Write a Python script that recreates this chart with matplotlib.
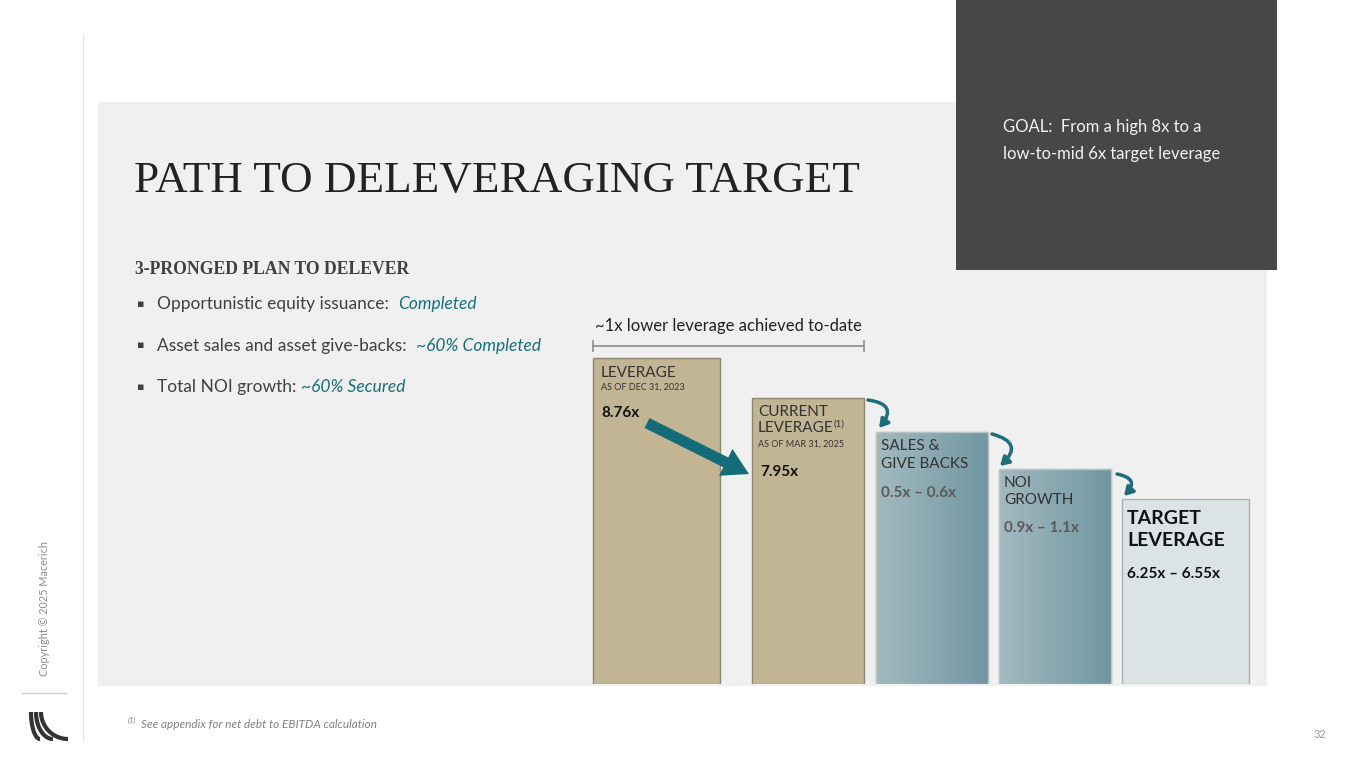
import numpy as np
import matplotlib.pyplot as plt
from matplotlib.patches import Rectangle, FancyArrow
from matplotlib.colors import LinearSegmentedColormap

# schematic leverage bars (tops, same scale as 8.76x / 7.95x)
stages = ['LEVERAGE', 'CURRENT LEVERAGE', 'SALES & GIVE BACKS', 'NOI GROWTH', 'TARGET LEVERAGE']
bar_tops = [8.76, 7.95, 7.26, 6.51, 5.90]
base_value = 2.16
value_labels = ['8.76x', '7.95x', '0.5x – 0.6x', '0.9x – 1.1x', '6.25x – 6.55x']
bullets = ['Opportunistic equity issuance:  ', 'Asset sales and asset give-backs:  ', 'Total NOI growth: ']
bullet_status = ['Completed', '~60% Completed', '~60% Secured']

# layout (pixels)
bar_x = [656.5, 808, 932, 1055, 1185.5]
bar_w = [127, 112, 112, 112, 127]
bar_face = ['#C2B594', '#C2B594', None, None, '#DCE3E5']
bar_edge = ['#8E866E', '#8E866E', '#B9C4C7', '#B9C4C7', '#A9B0B2']

SANS = ['Lato', 'DejaVu Sans']
SERIF = ['Liberation Serif', 'DejaVu Serif']
TEAL = '#17707C'

fig = plt.figure(figsize=(13.65, 7.68), dpi=100)
bg = fig.add_axes([0, 0, 1, 1], zorder=0)
bg.set_xlim(0, 1365)
bg.set_ylim(768, 0)
bg.axis('off')

# bar axes: bottom at pixel 684, top at pixel 300
px_per_unit = 40 / 0.81
ax = fig.add_axes([0, (768 - 684) / 768, 1, 384 / 768], zorder=1)
ax.patch.set_alpha(0)
ax.axis('off')
ytop = base_value + 384 / px_per_unit

ov = fig.add_axes([0, 0, 1, 1], zorder=2)
ov.patch.set_alpha(0)
ov.set_xlim(0, 1365)
ov.set_ylim(768, 0)
ov.axis('off')

# slide background
bg.add_patch(Rectangle((98, 102), 1169, 584, color='#F0F0F0', lw=0))
bg.add_patch(Rectangle((956, 0), 321, 270, color='#474747', lw=0))
bg.plot([83, 83], [35, 740], color='#E6E6E6', lw=1)
bg.plot([22, 66], [693, 693], color='#CCCCCC', lw=1)

# bars
heights = np.array(bar_tops) - base_value
bars = ax.bar(bar_x, heights, width=bar_w, bottom=base_value,
              color=[c if c else '#8FAAB2' for c in bar_face],
              edgecolor=bar_edge, linewidth=1)
grad = np.linspace(0, 1, 64).reshape(1, -1)
cmap = LinearSegmentedColormap.from_list('bl', ['#A3B9C0', '#7197A1'])
for i, b in enumerate(bars):
    if bar_face[i] is None:
        x0 = bar_x[i] - bar_w[i] / 2
        im = ax.imshow(grad, cmap=cmap, aspect='auto', zorder=2,
                       extent=(x0, x0 + bar_w[i], base_value, bar_tops[i]))
        im.set_clip_path(b)
        ax.add_patch(Rectangle((x0, base_value), bar_w[i], heights[i], fill=False,
                               edgecolor=bar_edge[i], lw=1, zorder=3))
ax.set_xlim(0, 1365)
ax.set_ylim(base_value, ytop)

fig.canvas.draw()
renderer = fig.canvas.get_renderer()


def put(x, y, parts, va='center'):
    for txt, kw in parts:
        t = ov.text(x, y, txt, va=va, ha='left', **kw)
        x += t.get_window_extent(renderer).width
    return x


# title and bullets
ov.text(134, 192, 'PATH TO DELEVERAGING TARGET', family=SERIF, fontsize=32.5,
        color='#222222', va='baseline')
ov.text(135, 274, '3-PRONGED PLAN TO DELEVER', family=SERIF, fontsize=12.7,
        fontweight='bold', color='#404040', va='baseline')
for i, (b, s) in enumerate(zip(bullets, bullet_status)):
    y = 304 + i * 41.5
    ov.text(137, y, '▪', family=['DejaVu Sans'], fontsize=8, color='#404040', va='center')
    put(157, y, [(b, dict(family=SANS, fontsize=12.5, color='#404040')),
                 (s, dict(family=SANS, fontsize=12.5, color=TEAL, style='italic'))])

# bracket
ov.plot([593, 864], [346, 346], color='#8C8C8C', lw=1.2)
ov.plot([593, 593], [341, 351], color='#8C8C8C', lw=1.2)
ov.plot([864, 864], [341, 351], color='#8C8C8C', lw=1.2)
ov.text(728.5, 326, '~1x lower leverage achieved to-date', family=SANS, fontsize=12,
        color='#222222', ha='center', va='center')

# bar labels
lab = dict(family=SANS, fontsize=11, color='#333333')
small = dict(family=SANS, fontsize=6.5, color='#333333')
bold = dict(family=SANS, fontsize=11, color='#111111', fontweight='bold')
grey_bold = dict(family=SANS, fontsize=11, color='#5A5A5A', fontweight='bold')

ov.text(601, 373, 'LEVERAGE', **lab, va='center')
ov.text(601, 387, 'AS OF DEC 31, 2023', **small, va='center')
ov.text(601, 413, value_labels[0], **bold, va='center')

ov.text(758, 412, 'CURRENT', **lab, va='center')
xe = put(758, 428, [('LEVERAGE', lab)])
ov.text(xe, 424, '(1)', family=SANS, fontsize=7, color='#333333', va='center')
ov.text(758, 444, 'AS OF MAR 31, 2025', **small, va='center')
ov.text(760, 472, value_labels[1], **bold, va='center')

ov.text(881, 446, 'SALES &', **lab, va='center')
ov.text(881, 464, 'GIVE BACKS', **lab, va='center')
ov.text(881, 493, value_labels[2], **grey_bold, va='center')

ov.text(1004, 483, 'NOI', **lab, va='center')
ov.text(1004, 500, 'GROWTH', **lab, va='center')
ov.text(1004, 528, value_labels[3], **grey_bold, va='center')

ov.text(1127, 519, 'TARGET', family=SANS, fontsize=14, color='#111111', fontweight='bold', va='center')
ov.text(1127, 541, 'LEVERAGE', family=SANS, fontsize=14, color='#111111', fontweight='bold', va='center')
ov.text(1127, 574, value_labels[4], **bold, va='center')

# big arrow from 8.76x to 7.95x
ov.add_patch(FancyArrow(647, 423, 102, 51, width=11, head_width=30, head_length=26,
                        length_includes_head=True, color='#146C78', lw=0))

# curly arrows between steps
for (x0, y0), (x1, y1) in [((868, 400), (879, 428)), ((992, 434), (1000, 466)),
                           ((1117, 474), (1124, 496))]:
    ov.annotate('', xy=(x1, y1), xytext=(x0, y0),
                arrowprops=dict(arrowstyle='-|>,head_length=0.5,head_width=0.3', color='#1E6E79',
                                lw=2.5, connectionstyle='arc3,rad=-0.9',
                                shrinkA=0, shrinkB=0))

# goal box
ov.text(1003, 127, 'GOAL:  From a high 8x to a', family=SANS, fontsize=12, color='#F2F2F2', va='center')
ov.text(1003, 154, 'low-to-mid 6x target leverage', family=SANS, fontsize=12, color='#F2F2F2', va='center')

# footer
ov.text(128, 720, '(1)', family=SANS, fontsize=5.5, color='#808080', style='italic', va='center')
ov.text(141, 724, 'See appendix for net debt to EBITDA calculation', family=SANS, fontsize=8.5,
        color='#808080', style='italic', va='center')
ov.text(1326, 734, '32', family=SANS, fontsize=8, color='#999999', ha='right', va='center')
ov.text(45, 608, 'Copyright © 2025 Macerich', family=SANS, fontsize=7.8, color='#8C8C8C',
        rotation=90, ha='center', va='center')

# logo: three sweeping strokes
t = np.linspace(0, np.pi / 2, 40)
for cx, rx in [(40, 9), (53, 17), (68, 27)]:
    ov.plot(cx - rx * np.cos(t), 712 + 27 * np.sin(t), color='#333333', lw=3,
            solid_capstyle='butt')

fig.savefig('out.png', dpi=100)
